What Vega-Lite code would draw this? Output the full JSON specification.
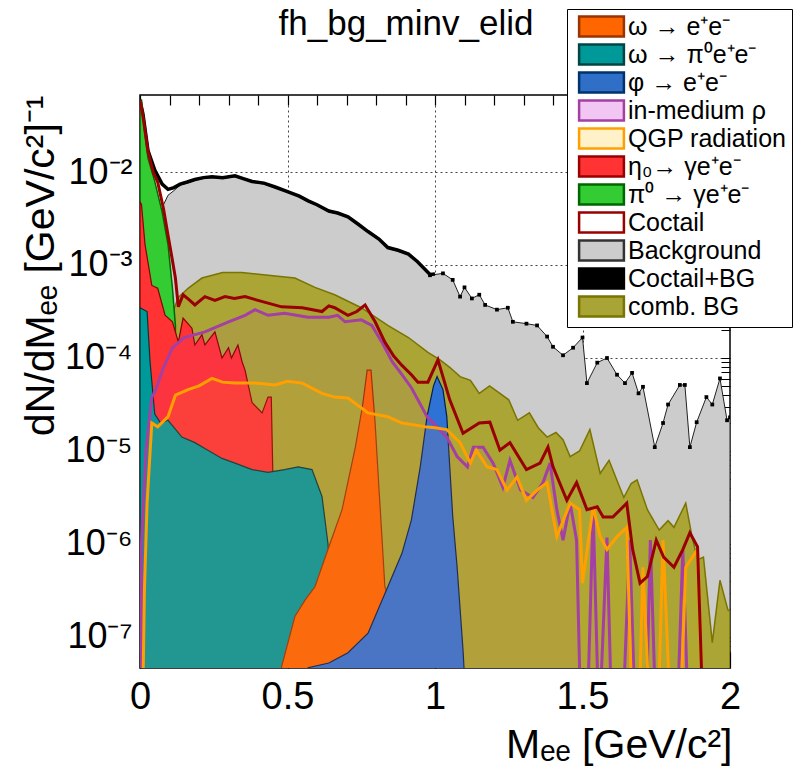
{
"$schema":"https://vega.github.io/schema/vega-lite/v6.json",
"width":590,"height":573,
"autosize":{"type":"none"},
"padding":{"left":140,"top":95,"right":75,"bottom":102},
"background":"#ffffff",
"config":{"font":"Liberation Sans","view":{"stroke":"#000","strokeWidth":1.5},
 "axis":{"domain":false,"labelFont":"Liberation Sans","titleFont":"Liberation Sans","titleFontWeight":"normal","labelColor":"#000","titleColor":"#000","tickColor":"#000","gridColor":"#444","gridDash":[2,3],"gridWidth":1}},
"title":{"text":"fh_bg_minv_elid","fontSize":35,"font":"Liberation Sans","fontWeight":"normal","anchor":"middle","frame":"group","baseline":"alphabetic","dx":-29,"offset":0,"dy":61,"color":"#000"},
"datasets":{
"bg":[{"m":0.06,"v":2.51e-3},{"m":0.08,"v":4.47e-3},{"m":0.095,"v":5.62e-3},{"m":0.115,"v":6.31e-3},{"m":0.136,"v":7.24e-3},{"m":0.16,"v":7.59e-3},{"m":0.186,"v":8.13e-3},{"m":0.215,"v":8.51e-3},{"m":0.244,"v":8.71e-3},{"m":0.28,"v":8.51e-3},{"m":0.322,"v":8.91e-3},{"m":0.35,"v":8.32e-3},{"m":0.38,"v":7.76e-3},{"m":0.42,"v":7.41e-3},{"m":0.458,"v":6.76e-3},{"m":0.5,"v":6.03e-3},{"m":0.54,"v":5.37e-3},{"m":0.57,"v":4.79e-3},{"m":0.6,"v":4.37e-3},{"m":0.64,"v":3.72e-3},{"m":0.67,"v":3.55e-3},{"m":0.705,"v":3.24e-3},{"m":0.74,"v":2.69e-3},{"m":0.773,"v":2.24e-3},{"m":0.81,"v":1.86e-3},{"m":0.84,"v":1.51e-3},{"m":0.875,"v":1.41e-3},{"m":0.91,"v":1.29e-3},{"m":0.94,"v":1.07e-3},{"m":0.983,"v":7.76e-4},{"m":1.027,"v":8.13e-4},{"m":1.06,"v":6.92e-4},{"m":1.085,"v":4.57e-4},{"m":1.1,"v":5.75e-4},{"m":1.125,"v":4.37e-4},{"m":1.15,"v":4.79e-4},{"m":1.17,"v":3.72e-4},{"m":1.21,"v":3.31e-4},{"m":1.247,"v":3.47e-4},{"m":1.264,"v":2.45e-4},{"m":1.31,"v":2.34e-4},{"m":1.346,"v":2.24e-4},{"m":1.38,"v":1.70e-4},{"m":1.4,"v":1.32e-4},{"m":1.434,"v":1.07e-4},{"m":1.468,"v":1.29e-4},{"m":1.5,"v":1.66e-4},{"m":1.515,"v":5.37e-5},{"m":1.55,"v":8.91e-5},{"m":1.583,"v":1.0e-4},{"m":1.617,"v":6.61e-5},{"m":1.644,"v":5.37e-5},{"m":1.668,"v":6.92e-5},{"m":1.69,"v":4.17e-5},{"m":1.705,"v":4.90e-5},{"m":1.745,"v":1.10e-5},{"m":1.773,"v":2.0e-5},{"m":1.79,"v":3.16e-5},{"m":1.83,"v":5.13e-5},{"m":1.847,"v":5.13e-5},{"m":1.864,"v":1.10e-5},{"m":1.887,"v":2.04e-5},{"m":1.92,"v":3.80e-5},{"m":1.94,"v":3.16e-5},{"m":1.966,"v":6.03e-5},{"m":1.99,"v":2.14e-5},{"m":2.0,"v":2.3e-5}],
"cbg":[{"m":0.0,"v":5.89e-2},{"m":0.01,"v":4.2e-2},{"m":0.027,"v":1.70e-2},{"m":0.05,"v":1.05e-2},{"m":0.075,"v":7.4e-3},{"m":0.095,"v":6.5e-3},{"m":0.115,"v":6.8e-3},{"m":0.136,"v":7.4e-3},{"m":0.16,"v":7.8e-3},{"m":0.186,"v":8.3e-3},{"m":0.215,"v":8.7e-3},{"m":0.244,"v":8.9e-3},{"m":0.28,"v":8.7e-3},{"m":0.322,"v":9.1e-3},{"m":0.35,"v":8.5e-3},{"m":0.38,"v":7.9e-3},{"m":0.42,"v":7.6e-3},{"m":0.458,"v":6.9e-3},{"m":0.5,"v":6.15e-3},{"m":0.54,"v":5.5e-3},{"m":0.57,"v":4.9e-3},{"m":0.6,"v":4.45e-3},{"m":0.64,"v":3.8e-3},{"m":0.67,"v":3.62e-3},{"m":0.705,"v":3.3e-3},{"m":0.74,"v":2.74e-3},{"m":0.773,"v":2.29e-3},{"m":0.81,"v":1.9e-3},{"m":0.84,"v":1.54e-3},{"m":0.875,"v":1.44e-3},{"m":0.91,"v":1.31e-3},{"m":0.94,"v":1.09e-3},{"m":0.983,"v":7.9e-4},{"m":1.0,"v":8.0e-4}],
"comb":[{"m":0.1,"v":2.51e-4},{"m":0.13,"v":4.47e-4},{"m":0.163,"v":5.62e-4},{"m":0.21,"v":7.24e-4},{"m":0.28,"v":8.32e-4},{"m":0.345,"v":8.32e-4},{"m":0.434,"v":7.76e-4},{"m":0.525,"v":7.24e-4},{"m":0.593,"v":5.75e-4},{"m":0.66,"v":4.79e-4},{"m":0.75,"v":3.47e-4},{"m":0.84,"v":2.24e-4},{"m":0.91,"v":1.66e-4},{"m":0.976,"v":1.15e-4},{"m":1.017,"v":9.55e-5},{"m":1.05,"v":7.94e-5},{"m":1.085,"v":6.31e-5},{"m":1.12,"v":5.75e-5},{"m":1.15,"v":4.17e-5},{"m":1.185,"v":5.01e-5},{"m":1.22,"v":4.17e-5},{"m":1.25,"v":3.55e-5},{"m":1.28,"v":2.14e-5},{"m":1.32,"v":2.57e-5},{"m":1.35,"v":1.78e-5},{"m":1.38,"v":1.41e-5},{"m":1.41,"v":1.58e-5},{"m":1.434,"v":1.32e-5},{"m":1.458,"v":8.71e-6},{"m":1.49,"v":1.0e-5},{"m":1.525,"v":1.70e-5},{"m":1.56,"v":5.75e-6},{"m":1.59,"v":7.94e-6},{"m":1.615,"v":5.01e-6},{"m":1.64,"v":3.16e-6},{"m":1.665,"v":4.47e-6},{"m":1.685,"v":4.90e-6},{"m":1.72,"v":2.34e-6},{"m":1.76,"v":1.41e-6},{"m":1.79,"v":1.78e-6},{"m":1.81,"v":1.51e-6},{"m":1.85,"v":2.75e-6},{"m":1.87,"v":1.26e-6},{"m":1.89,"v":6.76e-7},{"m":1.91,"v":7.24e-7},{"m":1.94,"v":8.71e-8},{"m":1.966,"v":4.07e-7},{"m":1.993,"v":1.95e-7},{"m":2.0,"v":1.9e-7}],
"pi0":[{"m":0.0,"v":5.5e-2},{"m":0.005,"v":6.03e-2},{"m":0.015,"v":2.82e-2},{"m":0.027,"v":1.41e-2},{"m":0.05,"v":7.94e-3},{"m":0.075,"v":3.72e-3},{"m":0.095,"v":1.66e-3},{"m":0.11,"v":5.62e-4},{"m":0.12,"v":2.24e-4},{"m":0.125,"v":1e-8}],
"eta":[{"m":0.0,"v":4.79e-3},{"m":0.005,"v":4.47e-3},{"m":0.017,"v":1.66e-3},{"m":0.04,"v":6.03e-4},{"m":0.06,"v":5.62e-4},{"m":0.085,"v":2.88e-4},{"m":0.11,"v":2.45e-4},{"m":0.13,"v":1.48e-4},{"m":0.146,"v":2.69e-4},{"m":0.176,"v":2.09e-4},{"m":0.186,"v":1.38e-4},{"m":0.21,"v":1.78e-4},{"m":0.22,"v":1.38e-4},{"m":0.254,"v":1.91e-4},{"m":0.278,"v":1.0e-4},{"m":0.3,"v":1.29e-4},{"m":0.31,"v":1.0e-4},{"m":0.332,"v":1.38e-4},{"m":0.346,"v":9.12e-5},{"m":0.356,"v":7.41e-5},{"m":0.38,"v":3.31e-5},{"m":0.414,"v":2.57e-5},{"m":0.434,"v":3.80e-5},{"m":0.445,"v":3.80e-5},{"m":0.45,"v":6.31e-6},{"m":0.455,"v":1e-8}],
"omdal":[{"m":0.0,"v":3.47e-4},{"m":0.024,"v":3.16e-4},{"m":0.034,"v":9.12e-5},{"m":0.05,"v":2.5e-5},{"m":0.07,"v":2.0e-5},{"m":0.095,"v":2.14e-5},{"m":0.142,"v":1.41e-5},{"m":0.186,"v":1.23e-5},{"m":0.23,"v":1.02e-5},{"m":0.278,"v":8.32e-6},{"m":0.322,"v":7.41e-6},{"m":0.38,"v":6.31e-6},{"m":0.434,"v":5.89e-6},{"m":0.49,"v":6.31e-6},{"m":0.536,"v":6.76e-6},{"m":0.583,"v":6.31e-6},{"m":0.617,"v":3.24e-6},{"m":0.637,"v":1.02e-6},{"m":0.65,"v":2.5e-7},{"m":0.66,"v":1e-8}],
"omee":[{"m":0.47,"v":1e-8},{"m":0.48,"v":4.79e-8},{"m":0.525,"v":1.66e-7},{"m":0.56,"v":2.51e-7},{"m":0.593,"v":3.47e-7},{"m":0.637,"v":8.71e-7},{"m":0.685,"v":2.34e-6},{"m":0.73,"v":1.10e-5},{"m":0.755,"v":3.16e-5},{"m":0.77,"v":7.41e-5},{"m":0.783,"v":7.41e-5},{"m":0.797,"v":2.0e-5},{"m":0.81,"v":3.98e-6},{"m":0.82,"v":1.20e-6},{"m":0.83,"v":3.47e-7},{"m":0.88,"v":1.26e-7},{"m":0.95,"v":3.98e-8},{"m":1.0,"v":1e-8}],
"phi":[{"m":0.56,"v":1e-8},{"m":0.57,"v":4.68e-8},{"m":0.64,"v":5.25e-8},{"m":0.705,"v":6.76e-8},{"m":0.773,"v":1.10e-7},{"m":0.84,"v":3.47e-7},{"m":0.888,"v":7.94e-7},{"m":0.92,"v":1.82e-6},{"m":0.95,"v":6.76e-6},{"m":0.973,"v":2.34e-5},{"m":0.995,"v":5.01e-5},{"m":1.007,"v":6.31e-5},{"m":1.027,"v":4.57e-5},{"m":1.04,"v":2.34e-5},{"m":1.05,"v":6.76e-6},{"m":1.06,"v":2.0e-6},{"m":1.075,"v":5.62e-7},{"m":1.095,"v":7.24e-8},{"m":1.11,"v":1e-8}],
"rho":[{"m":0.004,"v":1e-8},{"m":0.005,"v":1.0e-6},{"m":0.02,"v":1.0e-5},{"m":0.04,"v":3.80e-5},{"m":0.05,"v":4.27e-5},{"m":0.08,"v":7.94e-5},{"m":0.11,"v":1.29e-4},{"m":0.15,"v":1.66e-4},{"m":0.22,"v":1.91e-4},{"m":0.3,"v":2.45e-4},{"m":0.356,"v":2.88e-4},{"m":0.39,"v":3.31e-4},{"m":0.434,"v":2.88e-4},{"m":0.49,"v":3.02e-4},{"m":0.57,"v":2.75e-4},{"m":0.64,"v":2.75e-4},{"m":0.67,"v":2.88e-4},{"m":0.695,"v":2.45e-4},{"m":0.75,"v":2.57e-4},{"m":0.786,"v":2.24e-4},{"m":0.82,"v":1.48e-4},{"m":0.855,"v":9.12e-5},{"m":0.888,"v":6.61e-5},{"m":0.92,"v":4.79e-5},{"m":0.973,"v":2.34e-5},{"m":1.04,"v":1.41e-5},{"m":1.075,"v":8.71e-6},{"m":1.11,"v":6.76e-6},{"m":1.13,"v":1.10e-5},{"m":1.163,"v":1.10e-5},{"m":1.197,"v":7.41e-6},{"m":1.23,"v":4.07e-6},{"m":1.254,"v":7.94e-6},{"m":1.29,"v":3.80e-6},{"m":1.332,"v":3.16e-6},{"m":1.366,"v":4.57e-6},{"m":1.39,"v":7.41e-6},{"m":1.413,"v":2.34e-6},{"m":1.434,"v":1.10e-6},{"m":1.458,"v":2.75e-6},{"m":1.48,"v":1.10e-6},{"m":1.495,"v":1e-8},{"m":1.515,"v":1e-8},{"m":1.536,"v":2.34e-6},{"m":1.556,"v":1e-8},{"m":1.583,"v":1.17e-6},{"m":1.6,"v":1e-8},{"m":1.635,"v":1e-8},{"m":1.66,"v":1.10e-6},{"m":1.68,"v":1e-8},{"m":1.715,"v":1e-8},{"m":1.73,"v":1.10e-6},{"m":1.75,"v":1e-8},{"m":1.82,"v":1e-8},{"m":1.84,"v":8.71e-7},{"m":1.86,"v":1e-8},{"m":2.0,"v":1e-8}],
"qgp":[{"m":0.008,"v":1e-8},{"m":0.015,"v":3.16e-7},{"m":0.024,"v":2.75e-6},{"m":0.04,"v":2.0e-5},{"m":0.06,"v":1.82e-5},{"m":0.095,"v":2.34e-5},{"m":0.12,"v":3.98e-5},{"m":0.163,"v":4.57e-5},{"m":0.2,"v":5.01e-5},{"m":0.244,"v":6.03e-5},{"m":0.28,"v":5.50e-5},{"m":0.322,"v":5.37e-5},{"m":0.39,"v":5.37e-5},{"m":0.458,"v":5.13e-5},{"m":0.5,"v":5.62e-5},{"m":0.55,"v":5.37e-5},{"m":0.617,"v":4.17e-5},{"m":0.66,"v":3.80e-5},{"m":0.705,"v":3.72e-5},{"m":0.773,"v":2.57e-5},{"m":0.84,"v":2.34e-5},{"m":0.888,"v":2.0e-5},{"m":0.93,"v":1.91e-5},{"m":0.966,"v":1.82e-5},{"m":1.0,"v":1.78e-5},{"m":1.04,"v":1.70e-5},{"m":1.085,"v":1.23e-5},{"m":1.12,"v":7.41e-6},{"m":1.14,"v":1.02e-5},{"m":1.176,"v":6.76e-6},{"m":1.21,"v":6.31e-6},{"m":1.244,"v":3.80e-6},{"m":1.278,"v":5.25e-6},{"m":1.31,"v":2.95e-6},{"m":1.346,"v":3.80e-6},{"m":1.38,"v":4.57e-6},{"m":1.413,"v":1.20e-6},{"m":1.458,"v":2.75e-6},{"m":1.49,"v":2.34e-6},{"m":1.5,"v":3.80e-7},{"m":1.536,"v":2.51e-6},{"m":1.56,"v":1.20e-6},{"m":1.583,"v":8.71e-7},{"m":1.617,"v":1.20e-6},{"m":1.65,"v":1.51e-6},{"m":1.67,"v":1e-8},{"m":1.69,"v":1e-8},{"m":1.705,"v":5.62e-7},{"m":1.73,"v":1e-8},{"m":1.755,"v":1e-8},{"m":1.773,"v":1.10e-6},{"m":1.8,"v":1e-8},{"m":1.83,"v":1e-8},{"m":1.85,"v":5.62e-7},{"m":1.89,"v":8.71e-7},{"m":1.91,"v":1e-8},{"m":2.0,"v":1e-8}],
"coct":[{"m":0.0,"v":5.89e-2},{"m":0.01,"v":3.98e-2},{"m":0.027,"v":1.66e-2},{"m":0.045,"v":1.0e-2},{"m":0.06,"v":7.76e-3},{"m":0.08,"v":3.98e-3},{"m":0.095,"v":2.09e-3},{"m":0.11,"v":1.12e-3},{"m":0.12,"v":7.24e-4},{"m":0.13,"v":3.55e-4},{"m":0.146,"v":4.79e-4},{"m":0.165,"v":4.27e-4},{"m":0.186,"v":3.72e-4},{"m":0.22,"v":4.57e-4},{"m":0.254,"v":4.17e-4},{"m":0.288,"v":4.57e-4},{"m":0.32,"v":4.37e-4},{"m":0.356,"v":4.57e-4},{"m":0.4,"v":4.17e-4},{"m":0.434,"v":3.89e-4},{"m":0.48,"v":3.55e-4},{"m":0.55,"v":3.47e-4},{"m":0.617,"v":3.16e-4},{"m":0.64,"v":3.63e-4},{"m":0.66,"v":3.47e-4},{"m":0.705,"v":2.88e-4},{"m":0.735,"v":3.16e-4},{"m":0.763,"v":3.72e-4},{"m":0.797,"v":2.45e-4},{"m":0.83,"v":1.48e-4},{"m":0.86,"v":1.05e-4},{"m":0.888,"v":8.32e-5},{"m":0.92,"v":6.61e-5},{"m":0.942,"v":5.50e-5},{"m":0.976,"v":5.50e-5},{"m":1.01,"v":9.55e-5},{"m":1.05,"v":3.55e-5},{"m":1.095,"v":1.55e-5},{"m":1.15,"v":2.0e-5},{"m":1.186,"v":2.04e-5},{"m":1.22,"v":1.02e-5},{"m":1.254,"v":1.23e-5},{"m":1.31,"v":6.31e-6},{"m":1.356,"v":7.41e-6},{"m":1.383,"v":1.10e-5},{"m":1.4,"v":6.76e-6},{"m":1.447,"v":2.95e-6},{"m":1.48,"v":4.57e-6},{"m":1.515,"v":2.34e-6},{"m":1.55,"v":2.51e-6},{"m":1.57,"v":1.95e-6},{"m":1.603,"v":1.95e-6},{"m":1.65,"v":2.75e-6},{"m":1.67,"v":8.71e-7},{"m":1.695,"v":3.80e-7},{"m":1.72,"v":4.47e-7},{"m":1.75,"v":1.10e-6},{"m":1.775,"v":7.24e-7},{"m":1.81,"v":5.62e-7},{"m":1.84,"v":8.71e-7},{"m":1.864,"v":1.32e-6},{"m":1.89,"v":9.33e-7},{"m":1.91,"v":1e-8}],
"leg":[{"s":"ω → e⁺e⁻"},{"s":"ω → π⁰e⁺e⁻"},{"s":"φ → e⁺e⁻"},{"s":"in-medium  ρ"},{"s":"QGP radiation"},{"s":"η₀→ γe⁺e⁻"},{"s":"π⁰ → γe⁺e⁻"},{"s":"Coctail"},{"s":"Background"},{"s":"Coctail+BG"},{"s":"comb. BG"}]
},
"encoding":{
 "x":{"field":"m","type":"quantitative","scale":{"domain":[0,2],"nice":false,"zero":false},"axis":null},
 "y":{"field":"v","type":"quantitative","scale":{"type":"log","domain":[4.64e-8,0.0673],"nice":false},"axis":null}
},
"resolve":{"axis":{"x":"independent","y":"independent"}},
"layer":[
 {"data":{"name":"bg"},"mark":{"type":"area","clip":true,"fill":"#cccccc","stroke":"#222","strokeWidth":1},
  "encoding":{
   "x":{"field":"m","type":"quantitative","axis":{"orient":"bottom","values":[0,0.5,1,1.5,2],"grid":true,"tickSize":-16,"tickWidth":1.2,"labelPadding":26,"labelFontSize":38,"labelExpr":"datum.value == 0 ? '0' : datum.value == 1 ? '1' : datum.value == 2 ? '2' : format(datum.value, '.1f')","labelFlush":false,"labelOverlap":false,"title":"Mₑₑ [GeV/c²]","titleFontSize":41,"titleAnchor":"end","titleAlign":"right","titleX":592,"titleY":89,"titleBaseline":"alphabetic"}},
   "y":{"field":"v","type":"quantitative","axis":{"orient":"left","values":[1e-7,1e-6,1e-5,1e-4,1e-3,1e-2],"grid":true,"tickSize":-16,"tickWidth":1.2,"labelPadding":24,"labelFontSize":36,"labelExpr":"datum.value < 2e-7 ? '10⁻⁷' : datum.value < 2e-6 ? '10⁻⁶' : datum.value < 2e-5 ? '10⁻⁵' : datum.value < 2e-4 ? '10⁻⁴' : datum.value < 2e-3 ? '10⁻³' : '10⁻²'","labelOverlap":false,"title":"dN/dMₑₑ [GeV/c²]⁻¹","titleFontSize":41,"titleAngle":-90,"titleAnchor":"end","titleAlign":"right","titleX":-87,"titleY":0,"titleBaseline":"alphabetic"}},
   "y2":{"datum":1e-9}}},
 {"data":{"name":"cbg"},"mark":{"type":"line","clip":true,"color":"#000","strokeWidth":3.5},
  "encoding":{
   "x":{"field":"m","type":"quantitative","axis":{"orient":"top","values":[0,0.1,0.2,0.3,0.4,0.5,0.6,0.7,0.8,0.9,1,1.1,1.2,1.3,1.4,1.5,1.6,1.7,1.8,1.9,2],"grid":false,"tickSize":-10,"tickWidth":1.2,"labels":false,"title":null}},
   "y":{"field":"v","type":"quantitative","axis":{"orient":"right","values":[5e-8,6e-8,7e-8,8e-8,9e-8,2e-7,3e-7,4e-7,5e-7,6e-7,7e-7,8e-7,9e-7,2e-6,3e-6,4e-6,5e-6,6e-6,7e-6,8e-6,9e-6,2e-5,3e-5,4e-5,5e-5,6e-5,7e-5,8e-5,9e-5,2e-4,3e-4,4e-4,5e-4,6e-4,7e-4,8e-4,9e-4,2e-3,3e-3,4e-3,5e-3,6e-3,7e-3,8e-3,9e-3,2e-2,3e-2,4e-2,5e-2,6e-2,1e-7,1e-6,1e-5,1e-4,1e-3,1e-2],"grid":false,"tickSize":-9,"tickWidth":1,"labels":false,"title":null}}}},
 {"data":{"name":"bg"},"transform":[{"filter":"datum.m > 0.97"}],"mark":{"type":"point","shape":"square","filled":true,"size":14,"color":"#000","opacity":1,"clip":true}},
 {"data":{"name":"comb"},"mark":{"type":"area","clip":true,"fill":"#aaa535","stroke":"#7a7400","strokeWidth":1.5},"encoding":{"y2":{"datum":1e-9}}},
 {"data":{"name":"pi0"},"mark":{"type":"area","clip":true,"fill":"#33cc33","stroke":"#006600","strokeWidth":1.5},"encoding":{"y2":{"datum":1e-9}}},
 {"data":{"name":"eta"},"mark":{"type":"area","clip":true,"fill":"#ff3333","stroke":"#880000","strokeWidth":1.2},"encoding":{"y2":{"datum":1e-9}}},
 {"data":{"name":"omdal"},"mark":{"type":"area","clip":true,"fill":"#009999","stroke":"#003838","strokeWidth":1.2},"encoding":{"y2":{"datum":1e-9}}},
 {"data":{"name":"omee"},"mark":{"type":"area","clip":true,"fill":"#ff6600","stroke":"#993300","strokeWidth":1.2},"encoding":{"y2":{"datum":1e-9}}},
 {"data":{"name":"phi"},"mark":{"type":"area","clip":true,"fill":"#2f72d6","stroke":"#00204f","strokeWidth":1.2},"encoding":{"y2":{"datum":1e-9}}},
 {"data":{"name":"rho"},"mark":{"type":"area","clip":true,"fill":"#cc44cc","fillOpacity":0.08},"encoding":{"y2":{"datum":1e-9}}},
 {"data":{"name":"qgp"},"mark":{"type":"area","clip":true,"fill":"#ffd000","fillOpacity":0.08},"encoding":{"y2":{"datum":1e-9}}},
 {"data":{"name":"rho"},"mark":{"type":"line","clip":true,"color":"#a43fa4","strokeWidth":3}},
 {"data":{"name":"qgp"},"mark":{"type":"line","clip":true,"color":"#ffa000","strokeWidth":3}},
 {"data":{"name":"coct"},"mark":{"type":"line","clip":true,"color":"#990000","strokeWidth":3}},
 {"data":{"name":"leg"},"mark":{"type":"point","filled":true,"opacity":1,"clip":true},
  "encoding":{
   "x":{"datum":-5,"type":"quantitative"},
   "y":{"datum":10,"type":"quantitative"},
   "fill":{"field":"s","type":"nominal","scale":{"domain":["ω → e⁺e⁻","ω → π⁰e⁺e⁻","φ → e⁺e⁻","in-medium  ρ","QGP radiation","η₀→ γe⁺e⁻","π⁰ → γe⁺e⁻","Coctail","Background","Coctail+BG","comb. BG"],"range":["#ff6600","#009999","#2f6fc8","#f2c6f2","#fff2c8","#ff3333","#33cc33","#ffffff","#cccccc","#000000","#a9a436"]},
     "legend":{"orient":"none","legendX":427,"legendY":-86,"title":null,"labelFontSize":25,"labelFont":"Liberation Sans","labelColor":"#000","symbolType":"M-2.8,-1.25H2.8V1.25H-2.8Z","symbolSize":256,"symbolStrokeWidth":2.5,"rowPadding":-5.5,"padding":5,"strokeColor":"#000","fillColor":"#ffffff","labelOffset":14,"symbolOffset":17,"labelLimit":400}},
   "stroke":{"field":"s","type":"nominal","scale":{"domain":["ω → e⁺e⁻","ω → π⁰e⁺e⁻","φ → e⁺e⁻","in-medium  ρ","QGP radiation","η₀→ γe⁺e⁻","π⁰ → γe⁺e⁻","Coctail","Background","Coctail+BG","comb. BG"],"range":["#993300","#004444","#00336e","#a43fa4","#ffa000","#990000","#006600","#990000","#333333","#000000","#7a7400"]}}}}
]
}
